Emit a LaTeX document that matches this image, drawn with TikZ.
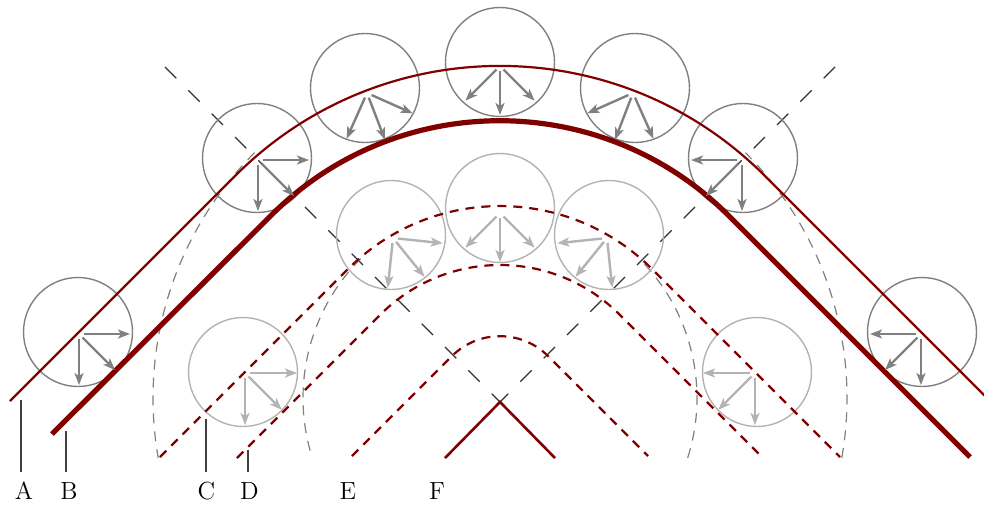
\documentclass[tikz,border=0pt]{standalone}
\usetikzlibrary{arrows.meta,calc}
\definecolor{wred}{HTML}{800000}
\definecolor{dgray}{HTML}{808080}
\definecolor{lgray}{HTML}{B3B3B3}
\definecolor{nline}{HTML}{333333}
\definecolor{tickc}{HTML}{404040}
\begin{document}
\begin{tikzpicture}[x=0.5pt,y=-0.5pt,
  wave/.style={draw=wred, line width=1.1pt},
  thickwave/.style={draw=wred, line width=2.6pt},
  dwave/.style={draw=wred, line width=1.1pt, dash pattern=on 4.5pt off 3.5pt},
  darkc/.style={circle, draw=dgray, line width=0.7pt, minimum size=54.5pt, inner sep=0pt},
  lightc/.style={circle, draw=lgray, line width=0.7pt, minimum size=54.5pt, inner sep=0pt},
  darr/.style={draw=dgray, line width=1.2pt, -{Stealth[length=6pt,width=4.5pt,inset=1.5pt]}, shorten <=2.5pt},
  larr/.style={darr, draw=lgray},
  normline/.style={draw=nline, line width=0.6pt, dash pattern=on 8pt off 8.5pt},
  wavelet/.style={draw=dgray, line width=0.6pt, dash pattern=on 5pt off 4pt},
  tick/.style={draw=tickc, line width=0.7pt},
  lab/.style={font=\fontsize{12.4}{15}\selectfont, anchor=base, inner sep=0pt}
]
\clip (0,0) rectangle (984,505);

% key points
\coordinate (V) at (500,402);
\coordinate (NL) at (165,67);
\coordinate (NR) at (835,67);
\coordinate (WC) at (500,398);

% normals
\draw[normline] (NL) -- (V);
\draw[normline] (NR) -- (V);

% wavelet arcs
\draw[wavelet] (WC) ++(135:173.5pt) arc[start angle=135, end angle=189.96, radius=173.5pt];
\draw[wavelet] (WC) ++(-9.96:173.5pt) arc[start angle=-9.96, end angle=45, radius=173.5pt];
\draw[wavelet] (WC) ++(135:98.5pt) arc[start angle=135, end angle=197.7, radius=98.5pt];
\draw[wavelet] (WC) ++(-17.7:98.5pt) arc[start angle=-17.7, end angle=45, radius=98.5pt];

% circles
\node[darkc] (c1) at (78,332) {};
\node[darkc] (c2) at (257,158) {};
\node[darkc] (c3) at (365,88) {};
\node[darkc] (c4) at (500,62) {};
\node[darkc] (c5) at (635,88) {};
\node[darkc] (c6) at (743,158) {};
\node[darkc] (c7) at (922,332) {};
\node[lightc] (l1) at (243,372) {};
\node[lightc] (l2) at (391,235) {};
\node[lightc] (l3) at (500,208) {};
\node[lightc] (l4) at (609,235) {};
\node[lightc] (l5) at (757,372) {};

% wavefronts
\coordinate (A1) at (10,401); \coordinate (AT) at (500,-89); \coordinate (A2) at (990,401);
\coordinate (B1) at (52,434); \coordinate (BT) at (500,-13); \coordinate (B2) at (970,457);
\coordinate (C1) at (160,457); \coordinate (CT) at (500,117); \coordinate (C2) at (840,457);
\coordinate (D1) at (237,458); \coordinate (DT) at (500,195); \coordinate (D2) at (763,458);
\coordinate (E1) at (352,456); \coordinate (ET) at (500,308); \coordinate (E2) at (648,456);
\coordinate (F1) at (445,458); \coordinate (F2) at (555,458);
\draw[wave, rounded corners=187pt] (A1) -- (AT) -- (A2);
\draw[thickwave, rounded corners=161.5pt] (B1) -- (BT) -- (B2);
\draw[dwave, rounded corners=107.5pt] (C1) -- (CT) -- (C2);
\draw[dwave, rounded corners=84.5pt] (D1) -- (DT) -- (D2);
\draw[dwave, rounded corners=34pt] (E1) -- (ET) -- (E2);
\draw[wave, line width=1.3pt] (F1) -- (V) -- (F2);

% arrow origins
\coordinate (o1) at (79,334);
\coordinate (o2) at (258,160);
\coordinate (o3) at (367,93);
\coordinate (o4) at (500,66);
\coordinate (o5) at (633,93);
\coordinate (o6) at (742,160);
\coordinate (o7) at (921,334);
\coordinate (p1) at (245,373);
\coordinate (p2) at (393,238);
\coordinate (p3) at (500,213);
\coordinate (p4) at (607,238);
\coordinate (p5) at (755,373);

\foreach \a in {270,315,360} \draw[darr] (o1) -- ++(\a:25.5pt);
\foreach \a in {270,315,360} \draw[darr] (o2) -- ++(\a:25.5pt);
\foreach \a in {246,291,336} \draw[darr] (o3) -- ++(\a:25pt);
\foreach \a in {225,270,315} \draw[darr] (o4) -- ++(\a:24.5pt);
\foreach \a in {204,249,294} \draw[darr] (o5) -- ++(\a:25pt);
\foreach \a in {180,225,270} \draw[darr] (o6) -- ++(\a:25.5pt);
\foreach \a in {180,225,270} \draw[darr] (o7) -- ++(\a:25.5pt);
\foreach \a in {270,315,360} \draw[larr] (p1) -- ++(\a:26pt);
\foreach \a in {264,309,354} \draw[larr] (p2) -- ++(\a:25pt);
\foreach \a in {225,270,315} \draw[larr] (p3) -- ++(\a:24.5pt);
\foreach \a in {186,231,276} \draw[larr] (p4) -- ++(\a:25pt);
\foreach \a in {180,225,270} \draw[larr] (p5) -- ++(\a:26pt);

% labels
\coordinate (lb) at (0,472);
\node[lab] (LA) at (24,499.5) {A};
\node[lab] (LB) at (69,499.5) {B};
\node[lab] (LC) at (206.5,499.5) {C};
\node[lab] (LD) at (249.5,499.5) {D};
\node[lab] (LE) at (348,499.5) {E};
\node[lab] (LF) at (437,499.5) {F};
\coordinate (tA) at (21,400);
\coordinate (tB) at (66,431);
\coordinate (tC) at (206,419);
\coordinate (tD) at (248,450);
\draw[tick] (tA) -- (tA |- lb);
\draw[tick] (tB) -- (tB |- lb);
\draw[tick] (tC) -- (tC |- lb);
\draw[tick] (tD) -- (tD |- lb);
\end{tikzpicture}
\end{document}
